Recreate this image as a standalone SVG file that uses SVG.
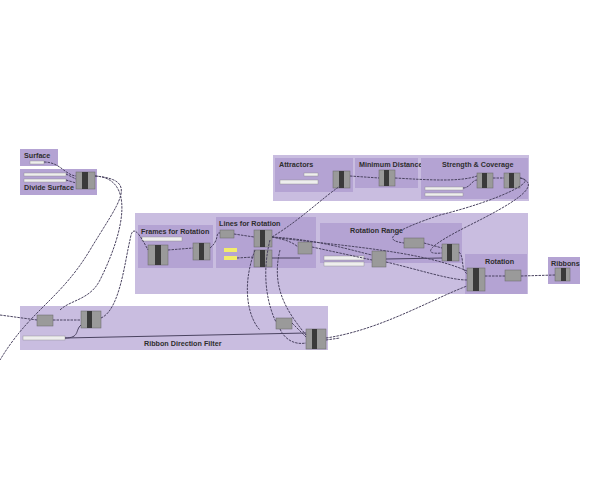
<svg xmlns="http://www.w3.org/2000/svg" width="600" height="500" viewBox="0 0 600 500">
<style>
.g{fill:#c9bde0}
.s{fill:#b4a3d3}
.t{font-family:"Liberation Sans",Arial,sans-serif;font-weight:bold;fill:#2e2e2e;font-size:7.2px}
.c{fill:#9a9a9a;stroke:#666;stroke-width:0.5}
.k{fill:#3a3a3a}
.sl{fill:#eee;stroke:#888;stroke-width:0.4}
.w{fill:none;stroke:#4a4360;stroke-width:1;stroke-dasharray:2.5,1}
.ws{fill:none;stroke:#4a4360;stroke-width:1}
</style>
<rect width="600" height="500" fill="#fff"/>
<g id="surface"><rect class="s" x="20" y="149" width="38" height="17"/><text class="t" x="24" y="158">Surface</text><rect class="sl" x="30" y="161" width="14" height="3"/></g>
<g id="divide"><rect class="s" x="20" y="169" width="77" height="26"/><rect class="sl" x="24" y="173" width="42" height="3"/><rect class="sl" x="24" y="179" width="42" height="3"/><text class="t" x="24" y="190">Divide Surface</text><rect class="c" x="76" y="172" width="19" height="17"/><rect class="k" x="82" y="172" width="6" height="17"/></g>
<g id="top"><rect class="g" x="273" y="155" width="256" height="46"/>
<rect class="s" x="275" y="158" width="78" height="34"/><text class="t" x="279" y="167">Attractors</text><rect class="sl" x="304" y="173" width="14" height="3"/><rect class="sl" x="280" y="180" width="38" height="4"/><rect class="c" x="333" y="171" width="17" height="17"/><rect class="k" x="339" y="171" width="5" height="17"/>
<rect class="s" x="355" y="158" width="63" height="30"/><text class="t" x="359" y="167">Minimum Distance</text><rect class="c" x="379" y="170" width="16" height="16"/><rect class="k" x="384" y="170" width="5" height="16"/>
<rect class="s" x="421" y="158" width="107" height="41"/><text class="t" x="442" y="167">Strength &amp; Coverage</text><rect class="sl" x="425" y="187" width="38" height="3"/><rect class="sl" x="425" y="193" width="38" height="3"/><rect class="c" x="477" y="173" width="16" height="15"/><rect class="k" x="482" y="173" width="5" height="15"/><rect class="c" x="504" y="173" width="16" height="15"/><rect class="k" x="509" y="173" width="5" height="15"/></g>
<g id="middle"><rect class="g" x="135" y="213" width="393" height="81"/>
<rect class="s" x="138" y="225" width="75" height="43"/><text class="t" x="141" y="234">Frames for Rotation</text><rect class="sl" x="142" y="237" width="40" height="4"/><rect class="c" x="148" y="245" width="20" height="20"/><rect class="k" x="155" y="245" width="6" height="20"/><rect class="c" x="193" y="243" width="17" height="17"/><rect class="k" x="199" y="243" width="5" height="17"/>
<rect class="s" x="216" y="217" width="100" height="51"/><text class="t" x="219" y="226">Lines for Rotation</text><rect class="c" x="220" y="230" width="14" height="8"/><rect fill="#f2ec6a" x="224" y="248" width="13" height="4"/><rect fill="#f2ec6a" x="224" y="256" width="13" height="4"/><rect class="c" x="254" y="230" width="18" height="17"/><rect class="k" x="260" y="230" width="5" height="17"/><rect class="c" x="254" y="250" width="18" height="17"/><rect class="k" x="260" y="250" width="5" height="17"/><rect class="c" x="298" y="242" width="14" height="12"/>
<rect class="s" x="320" y="223" width="142" height="40"/><text class="t" x="350" y="233">Rotation Range</text><rect class="sl" x="324" y="256" width="40" height="4"/><rect class="sl" x="324" y="262" width="40" height="4"/><rect class="c" x="372" y="251" width="14" height="16"/><rect class="c" x="404" y="238" width="20" height="10"/><rect class="c" x="442" y="244" width="17" height="17"/><rect class="k" x="447" y="244" width="5" height="17"/>
<rect class="s" x="465" y="254" width="62" height="40"/><text class="t" x="485" y="264">Rotation</text><rect class="c" x="467" y="268" width="18" height="23"/><rect class="k" x="473" y="268" width="6" height="23"/><rect class="c" x="505" y="270" width="16" height="11"/></g>
<g id="ribbons"><rect class="s" x="548" y="257" width="32" height="27"/><text class="t" x="551" y="266">Ribbons</text><rect class="c" x="555" y="268" width="15" height="13"/><rect class="k" x="561" y="268" width="5" height="13"/></g>
<g id="filter"><rect class="g" x="20" y="306" width="308" height="44"/><text class="t" x="144" y="346">Ribbon Direction Filter</text><rect class="c" x="37" y="315" width="16" height="11"/><rect class="c" x="81" y="311" width="20" height="17"/><rect class="k" x="87" y="311" width="5" height="17"/><rect class="sl" x="23" y="336" width="42" height="4"/><rect class="c" x="276" y="318" width="16" height="11"/><rect class="c" x="306" y="329" width="20" height="20"/><rect class="k" x="312" y="329" width="5" height="20"/></g>
<g id="connectors">
<path class="w" d="M44 162 C60 162 65 175 76 176"/><path class="w" d="M66 174 L76 179 M66 180 L76 183"/>
<path class="w" d="M95 176 C140 180 120 200 90 250 C60 300 30 310 0 360"/>
<path class="w" d="M95 176 C135 178 125 230 100 280 C90 300 70 300 60 310"/>
<path class="w" d="M53 320 L81 320"/><path class="w" d="M0 315 L37 320"/>
<path class="w" d="M101 318 C120 310 125 260 130 240 C132 228 135 225 148 250"/>
<path class="w" d="M168 250 L193 248"/><path class="w" d="M210 248 C220 240 215 232 220 233"/>
<path class="w" d="M234 234 L254 237"/><path class="w" d="M237 258 L254 257"/>
<path class="w" d="M272 237 C280 239 290 240 298 247"/>
<path class="w" d="M272 237 C300 220 320 200 340 186"/>
<path class="w" d="M272 237 C320 240 350 250 372 255"/>
<path class="w" d="M272 237 C330 245 420 250 467 271"/>
<path class="w" d="M312 247 L372 260"/><path class="ws" d="M272 258 L300 258"/>
<path class="w" d="M270 240 C260 280 270 310 276 322"/><path class="w" d="M280 250 C270 290 290 315 306 335"/>
<path class="w" d="M255 250 C240 290 250 320 260 330"/>
<path class="w" d="M350 176 L379 178"/><path class="w" d="M395 178 C430 180 460 182 477 176"/>
<path class="w" d="M463 188 C470 188 472 180 477 180"/><path class="w" d="M493 178 L504 178"/>
<path class="w" d="M520 178 C540 180 500 200 440 215 C395 230 380 240 404 243"/>
<path class="w" d="M520 178 C545 185 510 205 470 225 C430 245 420 255 442 253"/>
<path class="w" d="M424 243 L442 248"/><path class="ws" d="M386 259 L442 258"/>
<path class="w" d="M459 252 C465 258 460 268 467 274"/><path class="w" d="M386 262 C420 270 450 280 467 280"/>
<path class="w" d="M326 338 C380 330 430 300 467 286"/>
<path class="w" d="M485 276 L505 276"/><path class="w" d="M521 276 L555 275"/>
<path class="ws" d="M65 338 C80 338 75 330 81 325"/><path class="ws" d="M65 338 L306 333"/>
<path class="w" d="M292 323 L306 337"/><path class="w" d="M280 329 C285 340 295 345 306 343"/>
<path class="w" d="M326 340 L340 338"/>
</g>
</svg>
